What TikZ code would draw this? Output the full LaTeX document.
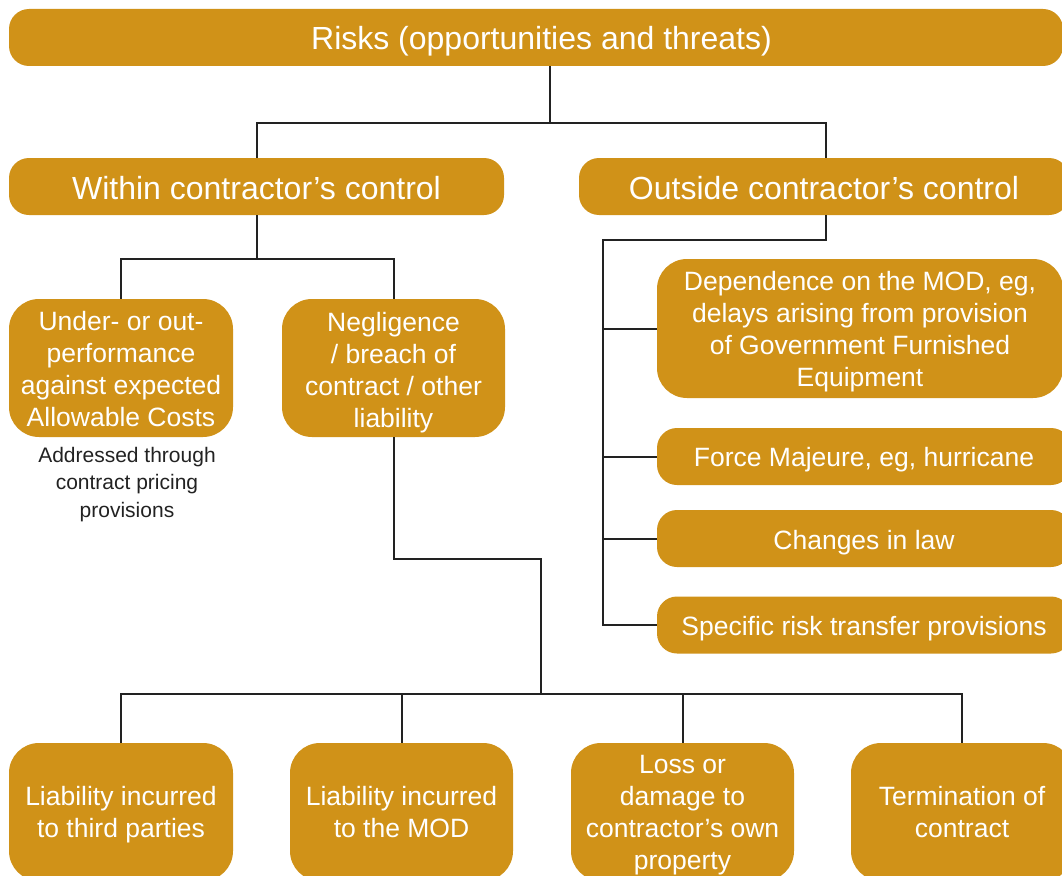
\documentclass[tikz,border=0pt]{standalone}
\usepackage{fontspec}
\setmainfont{Liberation Sans}
\definecolor{gold}{HTML}{D09218}
\definecolor{linec}{HTML}{222222}
\begin{document}
\begin{tikzpicture}[x=1pt,y=-1pt,
  shp/.style={fill=gold,inner sep=0pt},
  hbox/.style={shp,rounded corners=20pt,minimum height=57pt},
  sbox/.style={shp,rounded corners=20pt,minimum height=57pt},
  tbox/.style={shp,rounded corners=30pt,minimum height=138pt},
  btxt/.style={text=white,align=center,inner sep=0pt,font=\fontsize{26.5}{32}\selectfont,
    execute at begin node={\rule{0pt}{24pt}}, execute at end node={\rule[-4pt]{0pt}{4pt}}},
  htxt/.style={text=white,align=center,inner sep=0pt,font=\fontsize{32}{38}\selectfont,
    execute at begin node={\rule{0pt}{26pt}}, execute at end node={\rule[-2pt]{0pt}{2pt}}},
  conn/.style={draw=linec,line width=2pt}]
\useasboundingbox (0,0) rectangle (1062,875);
\clip (0,0) rectangle (1062,875);
% headers
\node[hbox,minimum width=1054pt] (top) at (536,37.5) {};
\node[hbox,minimum width=495pt] (within) at (256.5,186.5) {};
\node[hbox,minimum width=490pt] (outside) at (824,186.5) {};
\node[htxt] (top-t) at ([xshift=5.5pt,yshift=-2pt]top.center) {Risks (opportunities and threats)};
\node[htxt] (within-t) at ([yshift=-1pt]within.center) {Within contractor’s control};
\node[htxt] (outside-t) at ([yshift=-1pt]outside.center) {Outside contractor’s control};
% within children
\node[tbox,minimum width=224pt] (under) at (121,368) {};
\node[tbox,minimum width=223pt] (negl) at (393.5,368) {};
\node[btxt] (under-t) at ([yshift=-3pt]under.center) {Under- or out-\\performance\\against expected\\Allowable Costs};
\node[btxt] (negl-t) at ([yshift=-5pt]negl.center) {Negligence\\/ breach of\\contract / other\\liability};
\node[text=linec,align=center,font=\fontsize{21}{27.5}\selectfont,inner sep=0pt] (note) at (127,484.5) {Addressed through\\contract pricing\\provisions};
% outside children
\node[tbox,minimum width=406pt,minimum height=139pt] (dep) at (860,328.5) {};
\node[sbox,minimum width=414pt] (force) at (864,456.5) {};
\node[sbox,minimum width=414pt] (law) at (864,538.5) {};
\node[sbox,minimum width=414pt] (spec) at (864,625) {};
\node[btxt] (dep-t) at ([yshift=-3pt]dep.center) {Dependence on the MOD, eg,\\delays arising from provision\\of Government Furnished\\Equipment};
\node[btxt] (force-t) at ([yshift=-1pt]force.center) {Force Majeure, eg, hurricane};
\node[btxt] (law-t) at ([yshift=-2pt]law.center) {Changes in law};
\node[btxt] (spec-t) at ([yshift=-1pt]spec.center) {Specific risk transfer provisions};
% bottom row
\node[tbox,minimum width=224pt] (b1) at (121,812) {};
\node[tbox,minimum width=223pt] (b2) at (401.5,812) {};
\node[tbox,minimum width=223pt] (b3) at (682.5,812) {};
\node[tbox,minimum width=222pt] (b4) at (962,812) {};
\node[btxt] (b1-t) at ([yshift=-3pt]b1.center) {Liability incurred\\to third parties};
\node[btxt] (b2-t) at ([yshift=-2pt]b2.center) {Liability incurred\\to the MOD};
\node[btxt] (b3-t) at ([yshift=-3pt]b3.center) {Loss or\\damage to\\contractor’s own\\property};
\node[btxt] (b4-t) at ([yshift=-2pt]b4.center) {Termination of\\contract};
% junctions
\coordinate (j1) at (550,123);
\coordinate (j2) at (256.5,259);
\coordinate (j3) at (826,240);
\coordinate (j3b) at (603,240);
\coordinate (j4) at (393.5,559);
\coordinate (j5) at (541,694);
% connectors
\draw[conn] (top.south -| j1) -- (j1) -| (within.north);
\draw[conn] (j1) -| (outside.north -| j3);
\draw[conn] (within.south) -- (j2) -| (under.north);
\draw[conn] (j2) -| (negl.north);
\draw[conn] (outside.south -| j3) -- (j3) -- (j3b) |- (spec.west);
\draw[conn] (dep.west -| j3b) -- (dep.west);
\draw[conn] (force.west -| j3b) -- (force.west);
\draw[conn] (law.west -| j3b) -- (law.west);
\draw[conn] (negl.south) -- (j4) -| (j5);
\draw[conn] (j5) -| (b1.north);
\draw[conn] (j5) -| (b2.north);
\draw[conn] (j5) -| (b3.north);
\draw[conn] (j5) -| (b4.north);
\end{tikzpicture}
\end{document}
